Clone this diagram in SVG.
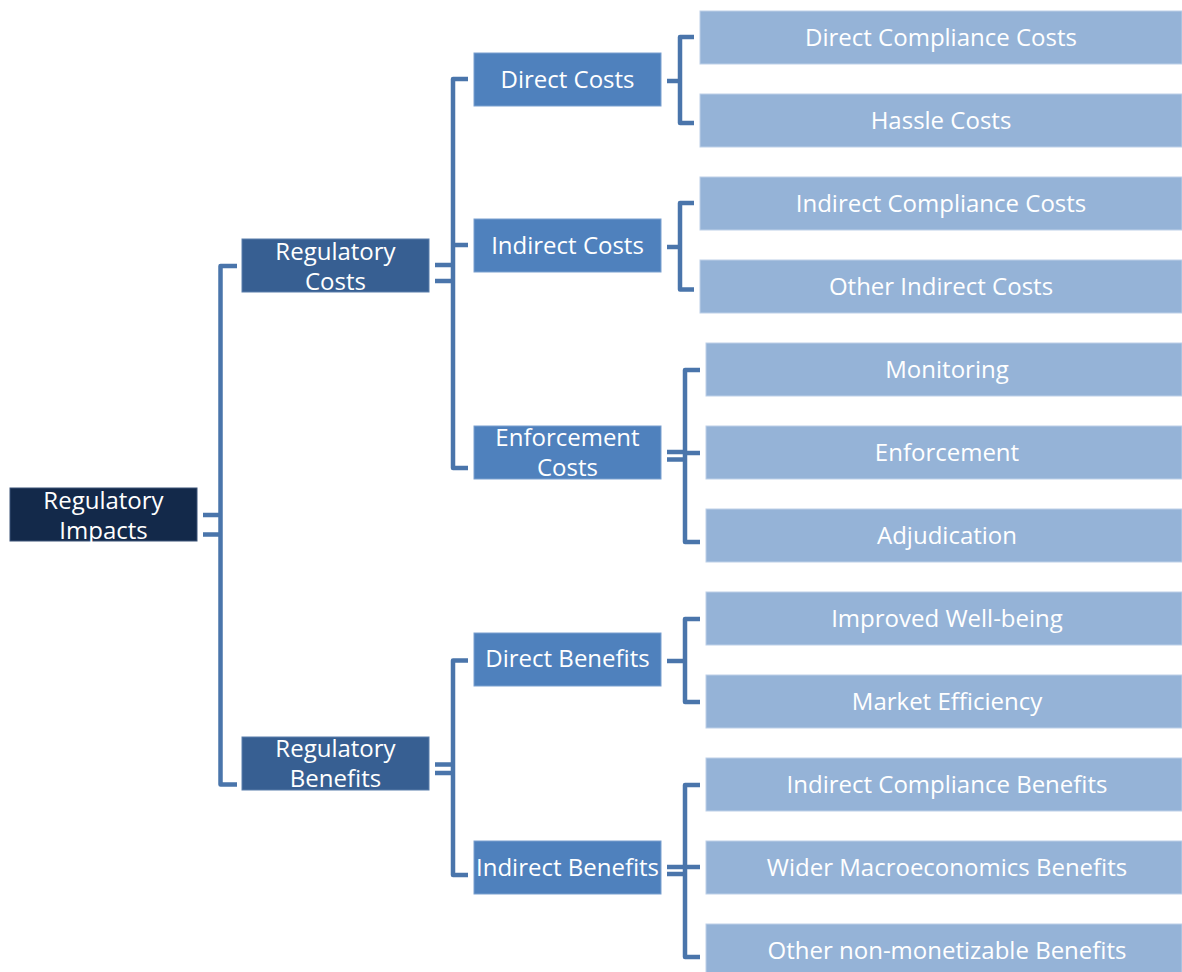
<svg xmlns="http://www.w3.org/2000/svg" width="1182" height="972" viewBox="0 0 1182 972">
<style>
.r{fill:#13294A;stroke:#3a5277;stroke-width:1}
.l1{fill:#375F92;stroke:#5a7eab;stroke-width:1}
.l2{fill:#4F81BD;stroke:#7ba0cf;stroke-width:1}
.lf{fill:#95B3D7;stroke:#bdd0e8;stroke-width:1}
text{font-family:"Open Sans","Liberation Sans",sans-serif;font-size:24px;fill:#ffffff;text-anchor:middle}
.c path{fill:none;stroke:#4A75AB;stroke-width:4.5;stroke-linejoin:round}
</style>
<rect width="1182" height="972" fill="#ffffff"/>
<g class="c" id="connectors">
<path d="M203 515H221M203 534.5H221"/>
<path d="M237 266H220.5V784.5H237"/>
<path d="M435 265H453M435 281H453"/>
<path d="M468 79H453V468H468M453 245H468"/>
<path d="M435 764.5H453M435 773H453"/>
<path d="M468 660.5H453V875H468"/>
<path d="M667 81H680"/>
<path d="M694 37H680V123H694"/>
<path d="M667 247H680"/>
<path d="M694 203H680V289.5H694"/>
<path d="M667 452H685M667 459.5H685"/>
<path d="M700 370H685V542H700M685 453H700"/>
<path d="M667 661H685"/>
<path d="M700 619H685V702H700"/>
<path d="M667 867H685M667 874H685"/>
<path d="M700 785H685V957H700M685 867H700"/>
</g>
<g id="n-root"><rect class="r" x="10" y="488" width="187" height="53"/><text x="103.5" y="509">Regulatory</text><text x="103.5" y="539">Impacts</text></g>
<g id="n-regcosts"><rect class="l1" x="242" y="239" width="187" height="53"/><text x="335.5" y="260">Regulatory</text><text x="335.5" y="290">Costs</text></g>
<g id="n-regbenefits"><rect class="l1" x="242" y="737" width="187" height="53"/><text x="335.5" y="757">Regulatory</text><text x="335.5" y="787">Benefits</text></g>
<g id="n-directcosts"><rect class="l2" x="474" y="53" width="187" height="53"/><text x="567.5" y="88">Direct Costs</text></g>
<g id="n-indirectcosts"><rect class="l2" x="474" y="219" width="187" height="53"/><text x="567.5" y="254">Indirect Costs</text></g>
<g id="n-enforcementcosts"><rect class="l2" x="474" y="426" width="187" height="53"/><text x="567.5" y="446">Enforcement</text><text x="567.5" y="476">Costs</text></g>
<g id="n-directbenefits"><rect class="l2" x="474" y="633" width="187" height="53"/><text x="567.5" y="667">Direct Benefits</text></g>
<g id="n-indirectbenefits"><rect class="l2" x="474" y="841" width="187" height="53"/><text x="567.5" y="876">Indirect Benefits</text></g>
<g id="n-dcc"><rect class="lf" x="700" y="11" width="482" height="53"/><text x="941" y="46">Direct Compliance Costs</text></g>
<g id="n-hassle"><rect class="lf" x="700" y="94" width="482" height="53"/><text x="941" y="129">Hassle Costs</text></g>
<g id="n-icc"><rect class="lf" x="700" y="177" width="482" height="53"/><text x="941" y="212">Indirect Compliance Costs</text></g>
<g id="n-oic"><rect class="lf" x="700" y="260" width="482" height="53"/><text x="941" y="295">Other Indirect Costs</text></g>
<g id="n-monitoring"><rect class="lf" x="706" y="343" width="476" height="53"/><text x="947" y="378">Monitoring</text></g>
<g id="n-enforcement"><rect class="lf" x="706" y="426" width="476" height="53"/><text x="947" y="461">Enforcement</text></g>
<g id="n-adjudication"><rect class="lf" x="706" y="509" width="476" height="53"/><text x="947" y="544">Adjudication</text></g>
<g id="n-wellbeing"><rect class="lf" x="706" y="592" width="476" height="53"/><text x="947" y="627">Improved Well-being</text></g>
<g id="n-market"><rect class="lf" x="706" y="675" width="476" height="53"/><text x="947" y="710">Market Efficiency</text></g>
<g id="n-icb"><rect class="lf" x="706" y="758" width="476" height="53"/><text x="947" y="793">Indirect Compliance Benefits</text></g>
<g id="n-wider"><rect class="lf" x="706" y="841" width="476" height="53"/><text x="947" y="876">Wider Macroeconomics Benefits</text></g>
<g id="n-othernm"><rect class="lf" x="706" y="924" width="476" height="53"/><text x="947" y="959">Other non-monetizable Benefits</text></g>
</svg>
